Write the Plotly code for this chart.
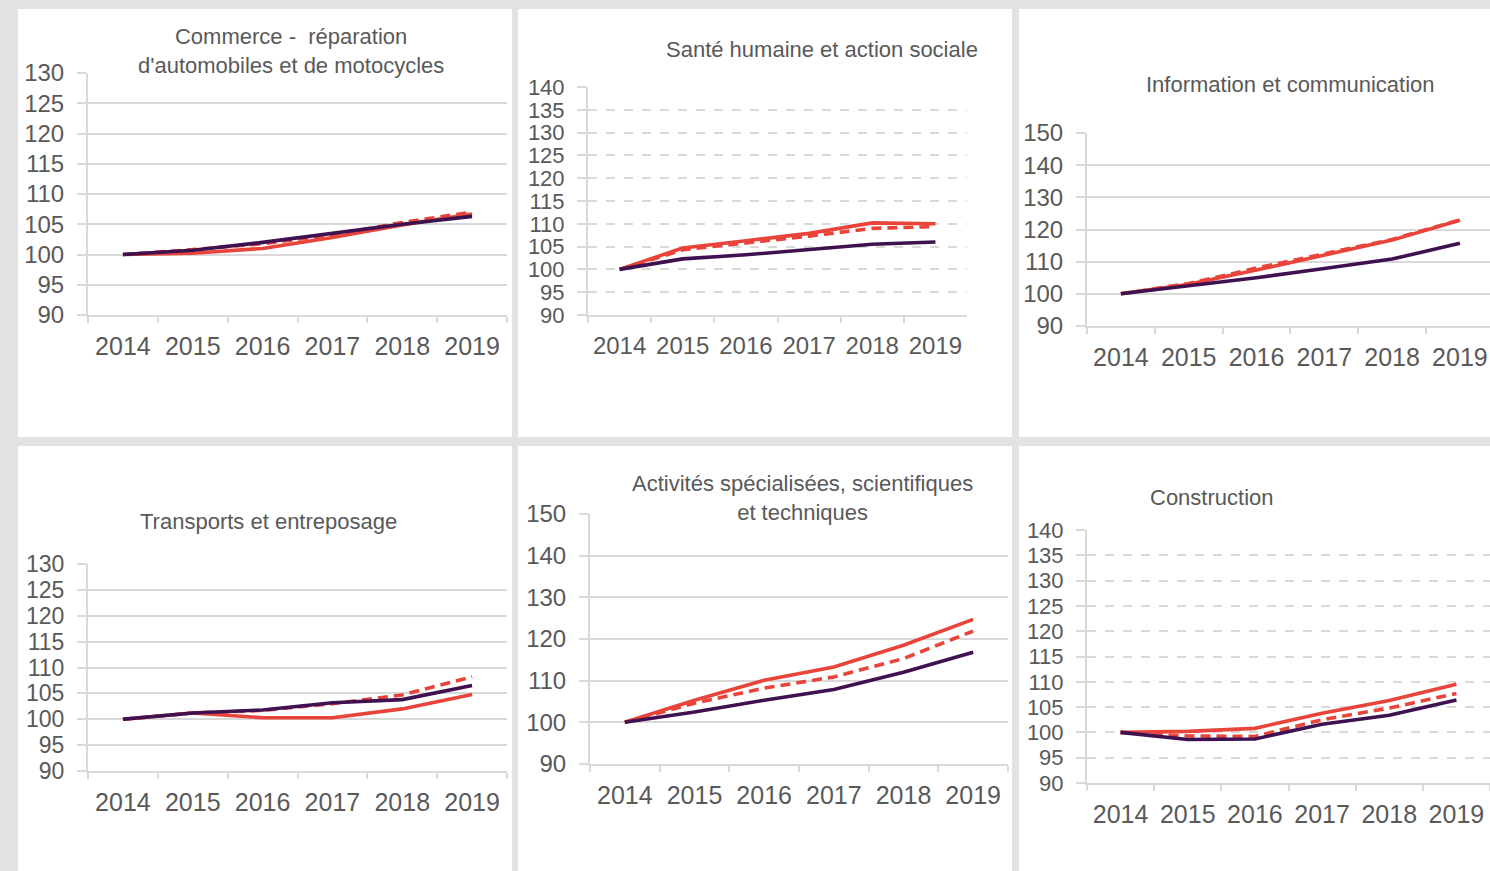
import plotly.graph_objects as go

W, H = 1490, 871
years = ["2014", "2015", "2016", "2017", "2018", "2019"]

titles = [
    "Commerce -  réparation<br>d'automobiles et de motocycles",
    "Santé humaine et action sociale",
    "Information et communication",
    "Transports et entreposage",
    "Activités spécialisées, scientifiques<br>et techniques",
    "Construction",
]

# series per panel: red solid, red dashed, purple solid
red_solid = [
    [100, 100.2, 101.0, 102.8, 104.9, 106.7],
    [100, 104.7, 106.3, 107.9, 110.2, 110.0],
    [100, 103.0, 107.4, 112.0, 116.7, 122.9],
    [100, 101.2, 100.3, 100.3, 102.0, 104.8],
    [100, 105.3, 110.1, 113.3, 118.5, 124.7],
    [100, 100.2, 100.8, 103.8, 106.3, 109.5],
]
red_dash = [
    [100, 100.8, 101.8, 103.2, 105.3, 107.0],
    [100, 104.3, 105.8, 107.3, 109.0, 109.4],
    [100, 103.2, 108.0, 112.5, 116.9, 123.0],
    [100, 101.2, 101.7, 103.0, 104.7, 108.2],
    [100, 104.6, 108.2, 110.9, 115.3, 121.9],
    [100, 99.3, 99.2, 102.5, 104.8, 107.7],
]
purple = [
    [100, 100.7, 102.0, 103.5, 105.0, 106.3],
    [100, 102.3, 103.2, 104.4, 105.5, 106.0],
    [100, 102.4, 105.0, 107.9, 110.8, 115.7],
    [100, 101.2, 101.8, 103.2, 103.8, 106.5],
    [100, 102.5, 105.3, 107.9, 112.0, 116.8],
    [100, 98.6, 98.7, 101.6, 103.4, 106.4],
]
y_ranges = [(90, 130, 5), (90, 140, 5), (90, 150, 10), (90, 130, 5), (90, 150, 10), (90, 140, 5)]

# layout geometry (pixels)
panels = [(18, 9, 512, 437), (518, 9, 1012, 437), (1019, 9, 1490, 437),
          (18, 446, 512, 871), (518, 446, 1012, 871), (1019, 446, 1490, 871)]
plot_boxes = [(88, 73, 507, 315), (588, 87, 967, 315), (1087, 133, 1490, 326),
              (88, 564, 507, 771), (590, 514, 1008, 764), (1087, 530, 1490, 783)]
x_right_units = [5.5, 5.5, 5.444, 5.5, 5.5, 5.5]
dashed_grid = [False, True, False, False, False, True]
title_pos = [(291, 51), (822, 50), (1290, 85), (268, 521), (802, 498), (1212, 497)]
ytick_size = [24, 22, 24, 23, 24, 22]
xtick_size = [25, 24, 25, 25, 25, 25]

RED = "#E8443A"
PURPLE = "#3F1150"
GRID = "#D9D9D9"
TXT = "#595959"
FONT = "Liberation Sans, Arial, sans-serif"

fig = go.Figure()
shapes = []
annotations = []
layout_axes = {}

for i in range(6):
    n = i + 1
    xa = "x" if n == 1 else f"x{n}"
    ya = "y" if n == 1 else f"y{n}"
    for vals, dash, col in [(red_solid[i], "solid", RED), (red_dash[i], "10px,6px", RED), (purple[i], "solid", PURPLE)]:
        fig.add_trace(go.Scatter(x=years, y=vals, mode="lines", xaxis=xa, yaxis=ya,
                                 line=dict(color=col, width=3.6, dash=dash), showlegend=False,
                                 hoverinfo="skip"))
    x0, y0, x1, y1 = plot_boxes[i]
    lo, hi, step = y_ranges[i]
    px0, py0, px1, py1 = panels[i]
    shapes.append(dict(type="rect", xref="paper", yref="paper", x0=px0 / W, x1=px1 / W,
                       y0=1 - py1 / H, y1=1 - py0 / H, fillcolor="white", line=dict(width=0), layer="below"))
    layout_axes["xaxis" if n == 1 else f"xaxis{n}"] = dict(
        domain=[x0 / W, x1 / W], anchor=ya, type="category", range=[-0.5, x_right_units[i]],
        showgrid=False, showline=True, linecolor=GRID, linewidth=2, automargin=False,
        ticks="outside", tickson="boundaries", ticklen=6, tickcolor=GRID, tickwidth=1.5,
        tickfont=dict(family=FONT, size=xtick_size[i], color=TXT), ticklabelstandoff=8, fixedrange=True)
    layout_axes["yaxis" if n == 1 else f"yaxis{n}"] = dict(
        domain=[1 - y1 / H, 1 - y0 / H], anchor=xa, range=[lo, hi], dtick=step, tick0=lo,
        showgrid=True, gridcolor=GRID, gridwidth=1.5, griddash="dash" if dashed_grid[i] else "solid",
        showline=True, linecolor=GRID, linewidth=2, zeroline=False, automargin=False,
        ticks="outside", ticklen=9, tickcolor=GRID, tickwidth=1.5,
        tickfont=dict(family=FONT, size=ytick_size[i], color=TXT), ticklabelstandoff=8, fixedrange=True)
    tx, ty = title_pos[i]
    annotations.append(dict(text=titles[i], xref="paper", yref="paper", x=tx / W, y=1 - ty / H,
                            xanchor="center", yanchor="middle", showarrow=False,
                            font=dict(family=FONT, size=22, color=TXT)))

fig.update_layout(width=W, height=H, margin=dict(l=0, r=0, t=0, b=0, pad=0, autoexpand=False),
                  paper_bgcolor="#E2E2E2", plot_bgcolor="rgba(0,0,0,0)", showlegend=False,
                  shapes=shapes, annotations=annotations, **layout_axes)

post_js = (
    "document.documentElement.style.margin='0';document.documentElement.style.padding='0';"
    "document.documentElement.style.overflow='hidden';"
    "document.body.style.margin='0';document.body.style.padding='0';"
    "document.body.style.overflow='hidden';"
)
fig.write_html("out.html", config={"displayModeBar": False}, post_script=post_js)
